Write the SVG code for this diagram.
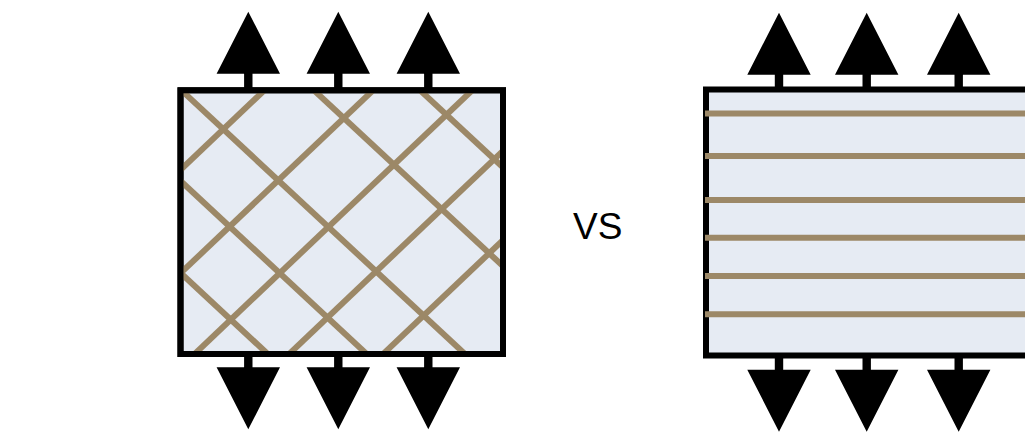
<svg xmlns="http://www.w3.org/2000/svg" width="1025" height="433" viewBox="0 0 1025 433">
<style>
.box{fill:#e6ebf3;stroke:#000;stroke-width:6}
.fib{stroke:#9c8867;stroke-width:6;fill:none}
.arrow{fill:#000}
.lbl{font-family:"Liberation Sans",Arial,sans-serif;font-size:37px;fill:#000}
</style>
<defs>
<path id="up" d="M0,0 L31.7,62 L4.2,62 L4.2,78 L-4.2,78 L-4.2,62 L-31.7,62 Z"/>
<clipPath id="clipL"><rect x="180.5" y="90.3" width="322.5" height="263.7"/></clipPath>
</defs>
<g id="node-crosshatch">
<rect class="box" x="180.5" y="90.3" width="322.5" height="263.7"/>
<g clip-path="url(#clipL)">
<line class="fib" x1="170" y1="79.7" x2="520" y2="405.2"/>
<line class="fib" x1="170" y1="171.1" x2="520" y2="496.6"/>
<line class="fib" x1="170" y1="263.1" x2="520" y2="588.6"/>
<line class="fib" x1="170" y1="-43.6" x2="520" y2="281.9"/>
<line class="fib" x1="170" y1="-142.3" x2="520" y2="183.2"/>
<line class="fib" x1="170" y1="179.9" x2="520" y2="-152.6"/>
<line class="fib" x1="170" y1="283.2" x2="520" y2="-49.3"/>
<line class="fib" x1="170" y1="377.4" x2="520" y2="44.9"/>
<line class="fib" x1="170" y1="467.2" x2="520" y2="134.7"/>
<line class="fib" x1="170" y1="556.5" x2="520" y2="224"/>
</g>
<rect x="180.5" y="90.3" width="322.5" height="263.7" fill="none" stroke="#000" stroke-width="6"/>
</g>
<g id="node-parallel">
<rect class="box" x="706" y="89.5" width="340" height="266"/>
<line class="fib" x1="705" y1="113.5" x2="1030" y2="113.5"/>
<line class="fib" x1="705" y1="156" x2="1030" y2="156"/>
<line class="fib" x1="705" y1="200" x2="1030" y2="200"/>
<line class="fib" x1="705" y1="237.7" x2="1030" y2="237.7"/>
<line class="fib" x1="705" y1="276" x2="1030" y2="276"/>
<line class="fib" x1="705" y1="314.3" x2="1030" y2="314.3"/>
</g>
<g id="label-vs">
<text class="lbl" x="573" y="238.5">VS</text>
</g>
<g id="connectors">
<use class="arrow" href="#up" transform="translate(248.3,11.7)"/>
<use class="arrow" href="#up" transform="translate(338.3,11.7)"/>
<use class="arrow" href="#up" transform="translate(428.3,11.7)"/>
<use class="arrow" href="#up" transform="translate(248.3,429.3) scale(1,-1)"/>
<use class="arrow" href="#up" transform="translate(338.3,429.3) scale(1,-1)"/>
<use class="arrow" href="#up" transform="translate(428.3,429.3) scale(1,-1)"/>
<use class="arrow" href="#up" transform="translate(779,12.7)"/>
<use class="arrow" href="#up" transform="translate(866.7,12.7)"/>
<use class="arrow" href="#up" transform="translate(958.7,12.7)"/>
<use class="arrow" href="#up" transform="translate(779,431.7) scale(1,-1)"/>
<use class="arrow" href="#up" transform="translate(866.7,431.7) scale(1,-1)"/>
<use class="arrow" href="#up" transform="translate(958.7,431.7) scale(1,-1)"/>
</g>
</svg>
